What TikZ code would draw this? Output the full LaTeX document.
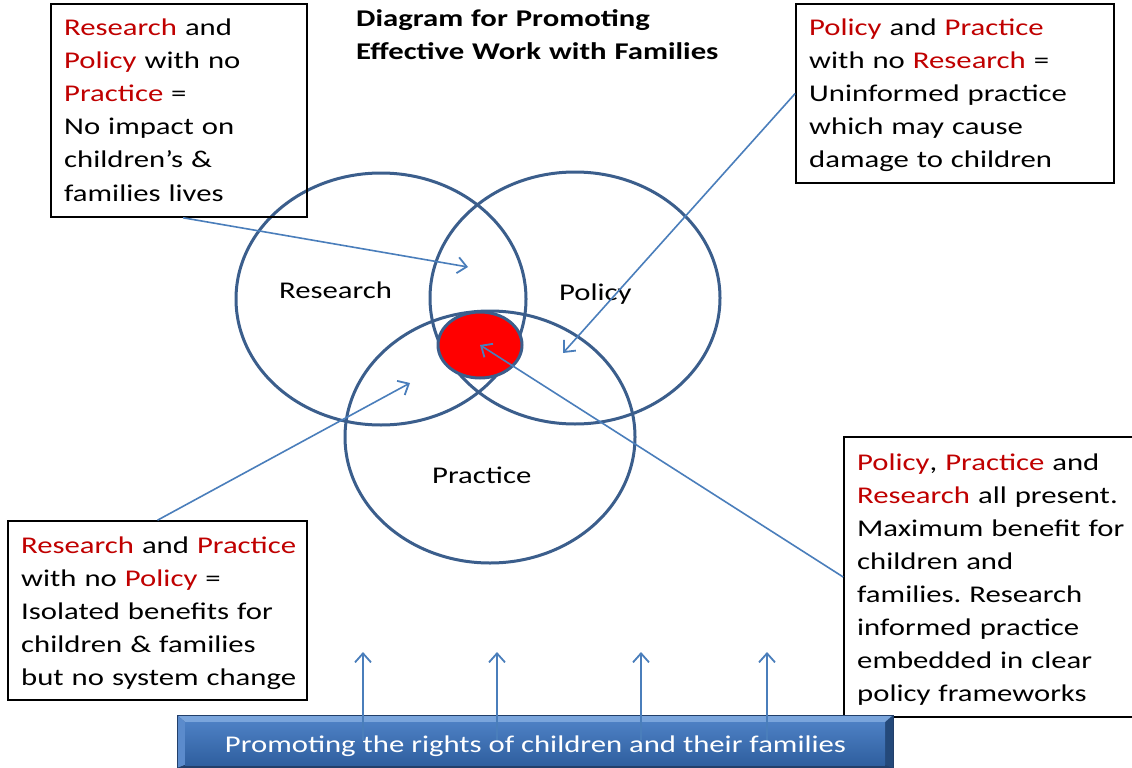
\documentclass[tikz,border=0pt]{standalone}
\usepackage{fontspec}
\setmainfont{Carlito}[FakeStretch=1.28]
\usetikzlibrary{shapes.geometric,arrows.meta,calc}
\definecolor{rtext}{HTML}{C00000}
\definecolor{venn}{HTML}{3B5E8C}
\definecolor{connc}{HTML}{4A7EBB}
\definecolor{bnA}{HTML}{4D80C4}
\definecolor{bnB}{HTML}{2F5F9F}
\definecolor{bnTop}{HTML}{7AA5DC}
\definecolor{bnLeft}{HTML}{5B8BCC}
\definecolor{bnRight}{HTML}{24497A}
\definecolor{bnBot}{HTML}{223F6A}
\newcommand{\redw}[1]{\textcolor{rtext}{#1}}
\frenchspacing
\begin{document}
\begin{tikzpicture}[x=1pt,y=-1pt,
  vennc/.style={ellipse,draw=venn,line width=3pt,inner sep=0pt,minimum width=290pt,minimum height=252pt},
  infobox/.style={rectangle,draw=black,line width=1.6pt,inner sep=0pt},
  boxtext/.style={anchor=base west,inner sep=0pt,text width=340pt,align=left,font=\fontsize{24}{33}\selectfont},
  vlabel/.style={anchor=base west,inner sep=0pt,font=\fontsize{24}{33}\selectfont},
  connector/.style={draw=connc,line width=1.6pt,-{Straight Barb[length=9pt,width=16pt,line width=1.8pt]}},
]
\useasboundingbox (0,0) rectangle (1132,768);
\fill[white] (0,0) rectangle (1132,768);

% Venn ellipses
\node[vennc] (research) at (381,299) {};
\node[vennc] (policy) at (575,298) {};
\node[vennc] (practice) at (490,437) {};
\node[ellipse,draw=venn,line width=3pt,fill=red,inner sep=0pt,minimum width=84pt,minimum height=66pt] (core) at (480,345) {};

\node[vlabel] (lres) at (279,298) {Research};
\node[vlabel] (lpol) at (559,300) {Policy};
\node[vlabel] (lpra) at (432,483) {Practice};

% title
\node[anchor=base west,inner sep=0pt,text width=420pt,align=left,font=\bfseries\fontsize{24}{33}\selectfont] (title) at (356,27)
  {Diagram for Promoting\\Effective Work with Families};

% boxes
\node[infobox,minimum width=256pt,minimum height=213pt] (box1) at (179,110.5) {};
\node[boxtext] (t1) at (64,36) {\redw{Research} and\\\redw{Policy} with no\\\redw{Practice} =\\No impact on\\children’s \&\\families lives};

\node[infobox,minimum width=318pt,minimum height=179pt] (box2) at (955,93.5) {};
\node[boxtext] (t2) at (809,36) {\redw{Policy} and \redw{Practice}\\with no \redw{Research} =\\Uninformed practice\\which may cause\\damage to children};

\node[infobox,minimum width=299pt,minimum height=179pt] (box3) at (157.5,610.5) {};
\node[boxtext] (t3) at (21,553) {\redw{Research} and \redw{Practice}\\with no \redw{Policy} =\\Isolated benefits for\\children \& families\\but no system change};

\node[infobox,minimum width=301pt,minimum height=280pt] (box4) at (994.5,577) {};
\node[boxtext] (t4) at (857,470) {\redw{Policy}, \redw{Practice} and\\\redw{Research} all present.\\Maximum benefit for\\children and\\families. Research\\informed practice\\embedded in clear\\policy frameworks};

% connector tips
\coordinate (tipA) at (468,267);
\coordinate (tipB) at (563,353);
\coordinate (tipC) at (410,383);
\coordinate (tipD) at (480,345);

\draw[connector] ($(box1.south west)!0.516!(box1.south east)$) -- (tipA);
\draw[connector] (box2.west) -- (tipB);
\draw[connector] (box3.north) -- (tipC);
\draw[connector] (box4.west) -- (tipD);

% banner
\fill[bnRight] (177,715) rectangle (893,768);
\fill[bnTop] (177,715) -- (893,715) -- (885,722) -- (185,722) -- cycle;
\fill[bnLeft] (177,715) -- (185,722) -- (185,765) -- (177,768) -- cycle;
\fill[bnBot] (177,768) -- (185,765) -- (885,765) -- (893,768) -- cycle;
\shade[top color=bnA,bottom color=bnB] (185,722) rectangle (885,765);
\draw[bnBot,line width=0.8pt] (177,715) rectangle (893,768);

% upward arrows
\foreach \i/\xx in {1/363,2/497,3/641,4/767}{
  \coordinate (up\i s) at (\xx,740);
  \coordinate (up\i e) at (\xx,652);
  \draw[connector] (up\i s) -- (up\i e);
}

\node[anchor=base,inner sep=0pt,text=white,font=\fontsize{24}{33}\selectfont] (banner) at (535.5,752)
  {Promoting the rights of children and their families};
\end{tikzpicture}
\end{document}
